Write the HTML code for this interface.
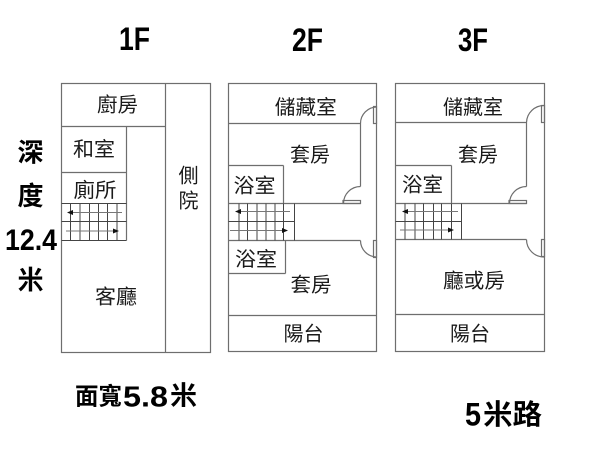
<!DOCTYPE html>
<html><head><meta charset="utf-8">
<style>
html,body{margin:0;padding:0;background:#fff;}
svg{display:block;}
.w{stroke:#6e6e6e;stroke-width:1.2;fill:none;}
.s{stroke:#444;stroke-width:1;fill:none;}
.a{stroke:#777;stroke-width:1;fill:none;}
.l{font-family:"Liberation Sans","Noto Sans CJK TC",sans-serif;font-size:20px;fill:#1a1a1a;text-anchor:middle;}
.b{font-family:"Liberation Sans","Noto Sans CJK TC",sans-serif;font-weight:bold;fill:#000;}
</style></head>
<body>
<svg width="600" height="449" viewBox="0 0 600 449" xmlns="http://www.w3.org/2000/svg">
<rect width="600" height="449" fill="#fff"/>

<!-- ===== 1F ===== -->
<rect class="w" x="61.5" y="83.5" width="149" height="269"/>
<line class="w" x1="165.5" y1="83.5" x2="165.5" y2="352.5"/>
<line class="w" x1="61.5" y1="126.5" x2="165.5" y2="126.5"/>
<line class="w" x1="126.5" y1="126.5" x2="126.5" y2="240.5"/>
<line class="w" x1="61.5" y1="172.5" x2="126.5" y2="172.5"/>
<!-- stairs 1F -->
<line class="s" x1="61.5" y1="203.5" x2="126.5" y2="203.5"/>
<line class="s" x1="61.5" y1="221.5" x2="126.5" y2="221.5"/>
<line class="s" x1="61.5" y1="240.5" x2="126.5" y2="240.5"/>
<g class="s">
<line x1="70.5" y1="203.5" x2="70.5" y2="240.5"/>
<line x1="80" y1="203.5" x2="80" y2="240.5"/>
<line x1="89.5" y1="203.5" x2="89.5" y2="240.5"/>
<line x1="98.5" y1="203.5" x2="98.5" y2="240.5"/>
<line x1="107.5" y1="203.5" x2="107.5" y2="240.5"/>
<line x1="117" y1="203.5" x2="117" y2="240.5"/>
</g>
<line class="a" x1="70" y1="212.5" x2="122" y2="212.5"/>
<polygon points="67,212.5 73,210 73,215" fill="#111"/>
<line class="a" x1="66" y1="231" x2="114" y2="231"/>
<polygon points="119,231 113,228.5 113,233.5" fill="#111"/>

<!-- ===== 2F ===== -->
<rect class="w" x="228.5" y="83.5" width="148" height="268"/>
<line class="w" x1="228.5" y1="123.5" x2="360.5" y2="123.5"/>
<line class="w" x1="360.5" y1="123.5" x2="360.5" y2="186.5"/>
<path class="w" d="M360.5 123.5 A16.5 16.5 0 0 1 377 107"/>
<rect class="w" x="373.5" y="106.5" width="3" height="17"/>
<path class="w" d="M360.5 186.5 A17 17 0 0 0 343.5 203.5"/>
<rect class="w" x="343" y="200.5" width="17.5" height="3"/>
<line class="w" x1="228.5" y1="203.5" x2="360.5" y2="203.5"/>
<line class="w" x1="228.5" y1="240.5" x2="360.5" y2="240.5"/>
<path class="w" d="M360.5 240.5 A16.5 16.5 0 0 0 377 257"/>
<rect class="w" x="373.5" y="240.5" width="3" height="17"/>
<line class="w" x1="228.5" y1="165.5" x2="283.5" y2="165.5"/>
<line class="w" x1="283.5" y1="165.5" x2="283.5" y2="203.5"/>
<line class="w" x1="285.5" y1="240.5" x2="285.5" y2="273.5"/>
<line class="w" x1="228.5" y1="273.5" x2="285.5" y2="273.5"/>
<line class="w" x1="228.5" y1="315.5" x2="376.5" y2="315.5"/>
<!-- stairs 2F -->
<line class="s" x1="228.5" y1="221.5" x2="294.5" y2="221.5"/>
<line class="s" x1="294.5" y1="203.5" x2="294.5" y2="240.5"/>
<g class="s">
<line x1="239" y1="203.5" x2="239" y2="240.5"/>
<line x1="247.5" y1="203.5" x2="247.5" y2="240.5"/>
<line x1="257" y1="203.5" x2="257" y2="240.5"/>
<line x1="266" y1="203.5" x2="266" y2="240.5"/>
<line x1="275" y1="203.5" x2="275" y2="240.5"/>
<line x1="283.5" y1="203.5" x2="283.5" y2="240.5"/>
</g>
<line class="a" x1="238" y1="211.5" x2="290" y2="211.5"/>
<polygon points="235,211.5 241,209 241,214" fill="#111"/>
<line class="a" x1="230" y1="230.5" x2="283" y2="230.5"/>
<polygon points="288,230.5 282,228 282,233" fill="#111"/>

<!-- ===== 3F ===== -->
<rect class="w" x="395.5" y="83.5" width="149" height="268"/>
<line class="w" x1="395.5" y1="122.5" x2="526.5" y2="122.5"/>
<line class="w" x1="526.5" y1="122.5" x2="526.5" y2="186.5"/>
<path class="w" d="M526.5 122.5 A17.5 17.5 0 0 1 544 105.5"/>
<rect class="w" x="541.5" y="105.5" width="3" height="17"/>
<path class="w" d="M526.5 186.5 A17 17 0 0 0 509.5 203.5"/>
<rect class="w" x="509" y="200.5" width="17.5" height="3"/>
<line class="w" x1="395.5" y1="203.5" x2="526.5" y2="203.5"/>
<line class="w" x1="395.5" y1="239.5" x2="526.5" y2="239.5"/>
<path class="w" d="M526.5 239.5 A17.5 17.5 0 0 0 544 257"/>
<rect class="w" x="541.5" y="239.5" width="3" height="17"/>
<line class="w" x1="395.5" y1="165.5" x2="451.5" y2="165.5"/>
<line class="w" x1="451.5" y1="165.5" x2="451.5" y2="203.5"/>
<line class="w" x1="395.5" y1="314.5" x2="544.5" y2="314.5"/>
<!-- stairs 3F -->
<line class="s" x1="395.5" y1="221.5" x2="461.5" y2="221.5"/>
<line class="s" x1="461.5" y1="203.5" x2="461.5" y2="239.5"/>
<g class="s">
<line x1="405" y1="203.5" x2="405" y2="239.5"/>
<line x1="415" y1="203.5" x2="415" y2="239.5"/>
<line x1="423.5" y1="203.5" x2="423.5" y2="239.5"/>
<line x1="433.5" y1="203.5" x2="433.5" y2="239.5"/>
<line x1="441.5" y1="203.5" x2="441.5" y2="239.5"/>
<line x1="451.5" y1="203.5" x2="451.5" y2="239.5"/>
</g>
<line class="a" x1="405" y1="211.5" x2="458" y2="211.5"/>
<polygon points="402,211.5 408,209 408,214" fill="#111"/>
<line class="a" x1="400" y1="230" x2="449" y2="230"/>
<polygon points="454,230 448,227.5 448,232.5" fill="#111"/>

<!-- ===== Room labels ===== -->
<text class="l" x="117.5" y="111.5" textLength="41" lengthAdjust="spacingAndGlyphs">廚房</text>
<text class="l" x="94" y="156" textLength="42" lengthAdjust="spacingAndGlyphs">和室</text>
<text class="l" x="95" y="197" textLength="43" lengthAdjust="spacingAndGlyphs">廁所</text>
<text class="l" x="188.5" y="182.5">側</text>
<text class="l" x="188.5" y="207.5">院</text>
<text class="l" x="116" y="303.5" textLength="42" lengthAdjust="spacingAndGlyphs">客廳</text>

<text class="l" x="305.8" y="114" textLength="62" lengthAdjust="spacingAndGlyphs">儲藏室</text>
<text class="l" x="310" y="161.5" textLength="40" lengthAdjust="spacingAndGlyphs">套房</text>
<text class="l" x="254.5" y="192.5" textLength="42" lengthAdjust="spacingAndGlyphs">浴室</text>
<text class="l" x="256" y="266" textLength="42" lengthAdjust="spacingAndGlyphs">浴室</text>
<text class="l" x="311" y="291.5" textLength="41" lengthAdjust="spacingAndGlyphs">套房</text>
<text class="l" x="303.5" y="340.5" textLength="40" lengthAdjust="spacingAndGlyphs">陽台</text>

<text class="l" x="473" y="114" textLength="60" lengthAdjust="spacingAndGlyphs">儲藏室</text>
<text class="l" x="478" y="161.5" textLength="40" lengthAdjust="spacingAndGlyphs">套房</text>
<text class="l" x="422.5" y="191.5" textLength="41" lengthAdjust="spacingAndGlyphs">浴室</text>
<text class="l" x="474" y="287.5" textLength="62" lengthAdjust="spacingAndGlyphs">廳或房</text>
<text class="l" x="470" y="340.5" textLength="40" lengthAdjust="spacingAndGlyphs">陽台</text>

<!-- ===== Headings ===== -->
<text class="b" x="119" y="50" font-size="32" textLength="31" lengthAdjust="spacingAndGlyphs">1F</text>
<text class="b" x="292" y="51" font-size="32" textLength="31" lengthAdjust="spacingAndGlyphs">2F</text>
<text class="b" x="458" y="51" font-size="32" textLength="30" lengthAdjust="spacingAndGlyphs">3F</text>

<!-- left depth label -->
<text class="b" x="30.5" y="161.5" font-size="26" text-anchor="middle">深</text>
<text class="b" x="30.5" y="205" font-size="26" text-anchor="middle">度</text>
<text class="b" x="5" y="250" font-size="30" textLength="52" lengthAdjust="spacingAndGlyphs">12.4</text>
<text class="b" x="30.5" y="289" font-size="26" text-anchor="middle">米</text>

<!-- bottom labels -->
<text class="b" x="75" y="404.5" font-size="24" textLength="47" lengthAdjust="spacingAndGlyphs">面寬</text>
<text class="b" x="123" y="406.5" font-size="29" textLength="45" lengthAdjust="spacingAndGlyphs">5.8</text>
<text class="b" x="170" y="404.5" font-size="26" textLength="27" lengthAdjust="spacingAndGlyphs">米</text>

<text class="b" x="465" y="425.5" font-size="32" textLength="16" lengthAdjust="spacingAndGlyphs">5</text>
<text class="b" x="483" y="424" font-size="28" textLength="59" lengthAdjust="spacingAndGlyphs">米路</text>
</svg>
</body></html>
